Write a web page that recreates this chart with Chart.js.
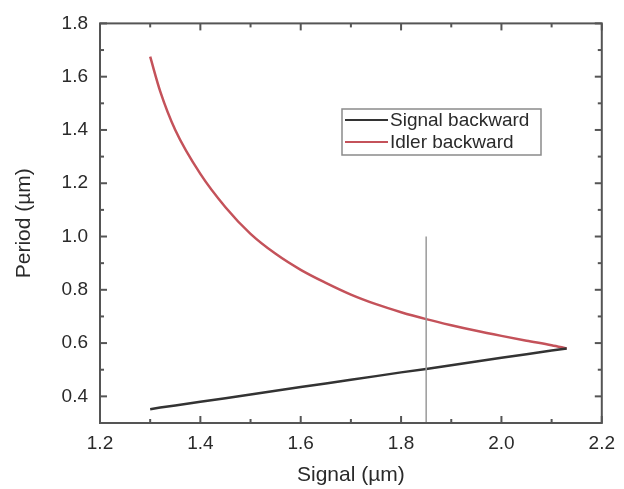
<!DOCTYPE html>
<html>
<head>
<meta charset="utf-8">
<script src="https://cdn.jsdelivr.net/npm/chart.js@4/dist/chart.umd.min.js"></script>
<style>
  html, body { margin: 0; padding: 0; background: #ffffff; }
  #wrap { width: 624px; height: 489px; position: relative; }
</style>
</head>
<body>
<div id="wrap"><canvas id="c"></canvas></div>
<script>
// ---- data ----
const signalX = [1.30, 1.32, 1.35, 1.40, 1.45, 1.50, 1.55, 1.60, 1.65, 1.70, 1.75, 1.80, 1.85, 1.90, 1.95, 2.00, 2.05, 2.10, 2.13];
const signalBackward = [0.352, 0.358, 0.366, 0.380, 0.393, 0.407, 0.421, 0.435, 0.448, 0.462, 0.476, 0.490, 0.503, 0.517, 0.531, 0.545, 0.558, 0.572, 0.580];
const idlerBackward = [1.675, 1.545, 1.400, 1.235, 1.110, 1.010, 0.935, 0.875, 0.826, 0.782, 0.746, 0.716, 0.690, 0.667, 0.646, 0.627, 0.609, 0.592, 0.580];
const markerX = [1.85, 1.85];
const markerY = [0.3, 1.0];
const seriesNames = ['Signal backward', 'Idler backward'];
const xTicks = [1.2, 1.4, 1.6, 1.8, 2.0, 2.2];
const xMinorTicks = [1.3, 1.5, 1.7, 1.9, 2.1];
const yTicks = [0.4, 0.6, 0.8, 1.0, 1.2, 1.4, 1.6, 1.8];
const yMinorTicks = [0.5, 0.7, 0.9, 1.1, 1.3, 1.5, 1.7];
const xTitle = 'Signal (µm)';
const yTitle = 'Period (µm)';

const FONT = "'Liberation Sans', Arial, Helvetica, sans-serif";
const toPts = (xs, ys) => xs.map((x, i) => ({ x: x, y: ys[i] }));

const framePlugin = {
  id: 'frame',
  afterDatasetsDraw(chart) {
    const { ctx, chartArea: a, scales: { x, y } } = chart;
    ctx.save();
    ctx.strokeStyle = '#555555';
    ctx.lineWidth = 2;
    ctx.strokeRect(a.left, a.top, a.right - a.left, a.bottom - a.top);
    const seg = (x1, y1, x2, y2) => { ctx.beginPath(); ctx.moveTo(x1, y1); ctx.lineTo(x2, y2); ctx.stroke(); };
    const xt = (vals, len) => vals.forEach(v => {
      const p = x.getPixelForValue(v);
      seg(p, a.bottom, p, a.bottom - len);
      seg(p, a.top, p, a.top + len);
    });
    const yt = (vals, len) => vals.forEach(v => {
      const p = y.getPixelForValue(v);
      seg(a.left, p, a.left + len, p);
      seg(a.right, p, a.right - len, p);
    });
    xt(xTicks, 7); xt(xMinorTicks, 4);
    yt(yTicks, 7); yt(yMinorTicks, 4);
    ctx.restore();
  }
};

const legendPlugin = {
  id: 'boxLegend',
  afterDraw(chart) {
    const { ctx } = chart;
    const bx = 342, by = 109, bw = 199, bh = 46;
    ctx.save();
    ctx.strokeStyle = '#8a8a8a';
    ctx.lineWidth = 1.5;
    ctx.strokeRect(bx, by, bw, bh);
    const ds = chart.data.datasets.filter(d => d.showInLegend);
    ds.forEach((d, i) => {
      const cy = by + 11 + i * 22;
      ctx.strokeStyle = d.borderColor;
      ctx.lineWidth = 2;
      ctx.beginPath(); ctx.moveTo(bx + 3, cy); ctx.lineTo(bx + 46, cy); ctx.stroke();
      ctx.fillStyle = '#2a2a2a';
      ctx.font = '19px ' + FONT;
      ctx.textBaseline = 'middle';
      ctx.textAlign = 'left';
      ctx.fillText(d.label, bx + 48, cy + 1);
    });
    ctx.restore();
  }
};

new Chart(document.getElementById('c'), {
  type: 'line',
  data: {
    datasets: [
      { label: 'marker', data: toPts(markerX, markerY), borderColor: '#9a9a9a', borderWidth: 1.5, pointRadius: 0, tension: 0, showInLegend: false },
      { label: seriesNames[0], data: toPts(signalX, signalBackward), borderColor: '#333333', borderWidth: 2.5, pointRadius: 0, tension: 0, showInLegend: true },
      { label: seriesNames[1], data: toPts(signalX, idlerBackward), borderColor: '#c4525a', borderWidth: 2.5, pointRadius: 0, cubicInterpolationMode: 'monotone', showInLegend: true }
    ]
  },
  options: {
    responsive: true,
    maintainAspectRatio: false,
    animation: false,
    layout: { padding: { left: 0, right: 16, top: 19, bottom: 0 } },
    plugins: { legend: { display: false }, tooltip: { enabled: false } },
    scales: {
      x: {
        type: 'linear',
        min: 1.2, max: 2.2,
        afterBuildTicks: s => { s.ticks = xTicks.map(v => ({ value: v })); },
        afterFit: s => { s.height = 66; },
        grid: { display: false, drawTicks: false },
        border: { display: false },
        ticks: { color: '#2a2a2a', font: { family: FONT, size: 19 }, padding: 9, maxRotation: 0, callback: v => Number(v).toFixed(1) },
        title: { display: true, text: xTitle, color: '#2a2a2a', font: { family: FONT, size: 21 }, padding: { top: 0, bottom: 1 } }
      },
      y: {
        type: 'linear',
        min: 0.3, max: 1.8,
        afterBuildTicks: s => { s.ticks = yTicks.map(v => ({ value: v })); },
        afterFit: s => { s.width = 100; },
        grid: { display: false, drawTicks: false },
        border: { display: false },
        ticks: { color: '#2a2a2a', font: { family: FONT, size: 19 }, padding: 12, callback: v => Number(v).toFixed(1) },
        title: { display: true, text: yTitle, color: '#2a2a2a', font: { family: FONT, size: 21 }, padding: { top: 12, bottom: 0 } }
      }
    }
  },
  plugins: [framePlugin, legendPlugin]
});
</script>
</body>
</html>
